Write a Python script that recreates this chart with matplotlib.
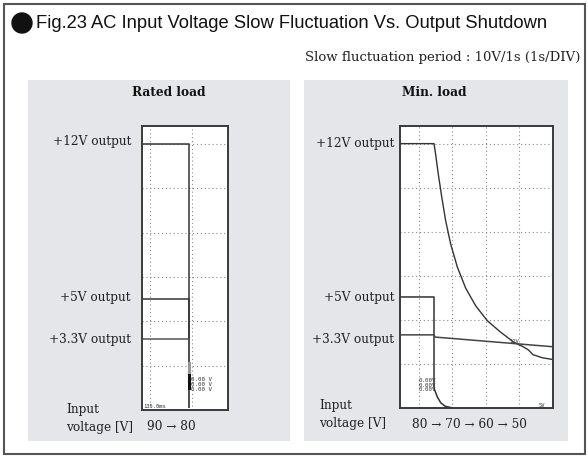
import matplotlib.pyplot as plt
from matplotlib.patches import Rectangle, Circle

# 字体
SANS = ['Liberation Sans', 'DejaVu Sans']
SERIF = ['DejaVu Serif']

# 额定负载 (Rated load) 波形, 单位: 格 (division)
rated_12v_t = [-0.19, 0.93, 0.93]
rated_12v_v = [6.0, 6.0, 0.07]
rated_5v_t = [-0.19, 0.93, 0.93]
rated_5v_v = [2.5, 2.5, 0.07]
rated_33v_t = [-0.19, 0.93, 0.93]
rated_33v_v = [1.6, 1.6, 0.07]

# 最小负载 (Min. load) 波形
min_12v_t = [-0.57, 0.45, 0.50, 0.58, 0.68, 0.80, 0.95, 1.15, 1.40, 1.70, 2.05,
             2.45, 2.85, 3.10, 3.28, 3.42, 3.70, 4.02]
min_12v_v = [6.0, 6.0, 5.75, 5.30, 4.80, 4.25, 3.72, 3.20, 2.72, 2.32, 1.98,
             1.72, 1.49, 1.40, 1.32, 1.21, 1.14, 1.10]
min_5v_t = [-0.57, 0.45, 0.45, 0.55, 0.65, 0.78, 1.02]
min_5v_v = [2.52, 2.52, 0.45, 0.25, 0.12, 0.04, 0.0]
min_33v_t = [-0.57, 0.45, 0.48, 4.02]
min_33v_v = [1.66, 1.66, 1.61, 1.39]

labels = ['+12V output', '+5V output', '+3.3V output']
rated_input = '90 → 80'
min_input = '80 → 70 → 60 → 50'

W, H = 588, 472
fig = plt.figure(figsize=(W / 100, H / 100), dpi=100)
bg = fig.add_axes([0, 0, 1, 1])
bg.set_xlim(0, W)
bg.set_ylim(H, 0)
bg.axis('off')

# 外框
bg.add_patch(Rectangle((4, 4), 581, 450, fill=False, ec='#555555', lw=1.5))
bg.add_patch(Circle((22, 23), 10, color='#111111'))
bg.text(36, 24, 'Fig.23 AC Input Voltage Slow Fluctuation Vs. Output Shutdown',
        family=SANS, fontsize=13.2, va='center', ha='left', color='#111111')
bg.text(580, 57, 'Slow fluctuation period : 10V/1s (1s/DIV)',
        family=SERIF, fontsize=9.5, va='center', ha='right', color='#222222')

# 灰色面板
bg.add_patch(Rectangle((28, 80), 262, 361, color='#e5e6e9', lw=0))
bg.add_patch(Rectangle((304, 80), 264, 361, color='#e5e6e9', lw=0))
bg.text(169, 93, 'Rated load', family=SERIF, fontsize=8.7, weight='bold',
        va='center', ha='center', color='#111111')
bg.text(434, 93, 'Min. load', family=SERIF, fontsize=8.7, weight='bold',
        va='center', ha='center', color='#111111')


def scope(box, xlim, ylim, xgrid, ygrid):
    x0, y0, x1, y1 = box
    ax = fig.add_axes([x0 / W, 1 - y1 / H, (x1 - x0) / W, (y1 - y0) / H])
    ax.set_xlim(*xlim)
    ax.set_ylim(*ylim)
    ax.set_xticks([])
    ax.set_yticks([])
    ax.set_facecolor('white')
    for s in ax.spines.values():
        s.set_color('#3a3a3a')
        s.set_linewidth(1.4)
    for gx in xgrid:
        ax.axvline(gx, color='#8a8a8a', ls=(0, (1, 2.5)), lw=0.8)
    for gy in ygrid:
        ax.axhline(gy, color='#8a8a8a', ls=(0, (1, 2.5)), lw=0.8)
    return ax


ax1 = scope((142, 126, 228, 410), (-0.19, 1.857), (0, 6.4), [0, 1], [1, 2, 3, 4, 5, 6])
ax1.plot(rated_12v_t, rated_12v_v, color='#333333', lw=1.1)
ax1.plot(rated_5v_t, rated_5v_v, color='#333333', lw=1.1)
ax1.plot(rated_33v_t, rated_33v_v, color='#555555', lw=1.1)
ax1.plot([0.93, 0.93], [0.5, 0.85], color='#111111', lw=2.2)
ax1.plot([0.93, 0.93], [0.85, 1.05], color='#999999', lw=2.2)
for i in range(3):
    ax1.text(0.98, 0.68 - i * 0.11, '0.00 V', family='DejaVu Sans Mono',
             fontsize=4.2, va='center', ha='left', color='#333333')
ax1.text(-0.17, 0.08, '135.0ms', family='DejaVu Sans Mono', fontsize=4,
         va='center', ha='left', color='#333333')

ax2 = scope((400, 126, 553, 408), (-0.57, 4.02), (0, 6.4), [0, 1, 2, 3, 4], [1, 2, 3, 4, 5, 6])
ax2.plot(min_12v_t, min_12v_v, color='#333333', lw=1.0)
ax2.plot(min_5v_t, min_5v_v, color='#333333', lw=1.1)
ax2.plot(min_33v_t, min_33v_v, color='#444444', lw=1.1)
for i in range(3):
    ax2.text(-0.02, 0.63 - i * 0.11, '0.00V', family='DejaVu Sans Mono',
             fontsize=4.2, va='center', ha='left', color='#333333')
ax2.text(2.72, 1.52, '12V', family='DejaVu Sans Mono', fontsize=4,
         va='center', ha='left', color='#333333')
ax2.text(3.6, 0.06, '5V', family='DejaVu Sans Mono', fontsize=4,
         va='center', ha='left', color='#333333')

# 标签
for lab, y in zip(labels, [142, 297, 339]):
    bg.text(131, y, lab, family=SERIF, fontsize=8.7, va='center', ha='right', color='#222222')
for lab, y in zip(labels, [143, 297, 340]):
    bg.text(394, y, lab, family=SERIF, fontsize=8.7, va='center', ha='right', color='#222222')

bg.text(66, 409, 'Input', family=SERIF, fontsize=8.7, va='center', ha='left', color='#222222')
bg.text(66, 427, 'voltage [V]', family=SERIF, fontsize=8.7, va='center', ha='left', color='#222222')
bg.text(147, 427, rated_input, family=SERIF, fontsize=8.7, va='center', ha='left', color='#222222')
bg.text(319, 405, 'Input', family=SERIF, fontsize=8.7, va='center', ha='left', color='#222222')
bg.text(319, 424, 'voltage [V]', family=SERIF, fontsize=8.7, va='center', ha='left', color='#222222')
bg.text(412, 424, min_input, family=SERIF, fontsize=8.7, va='center', ha='left', color='#222222')

fig.savefig('out.png', dpi=100, facecolor='white')
